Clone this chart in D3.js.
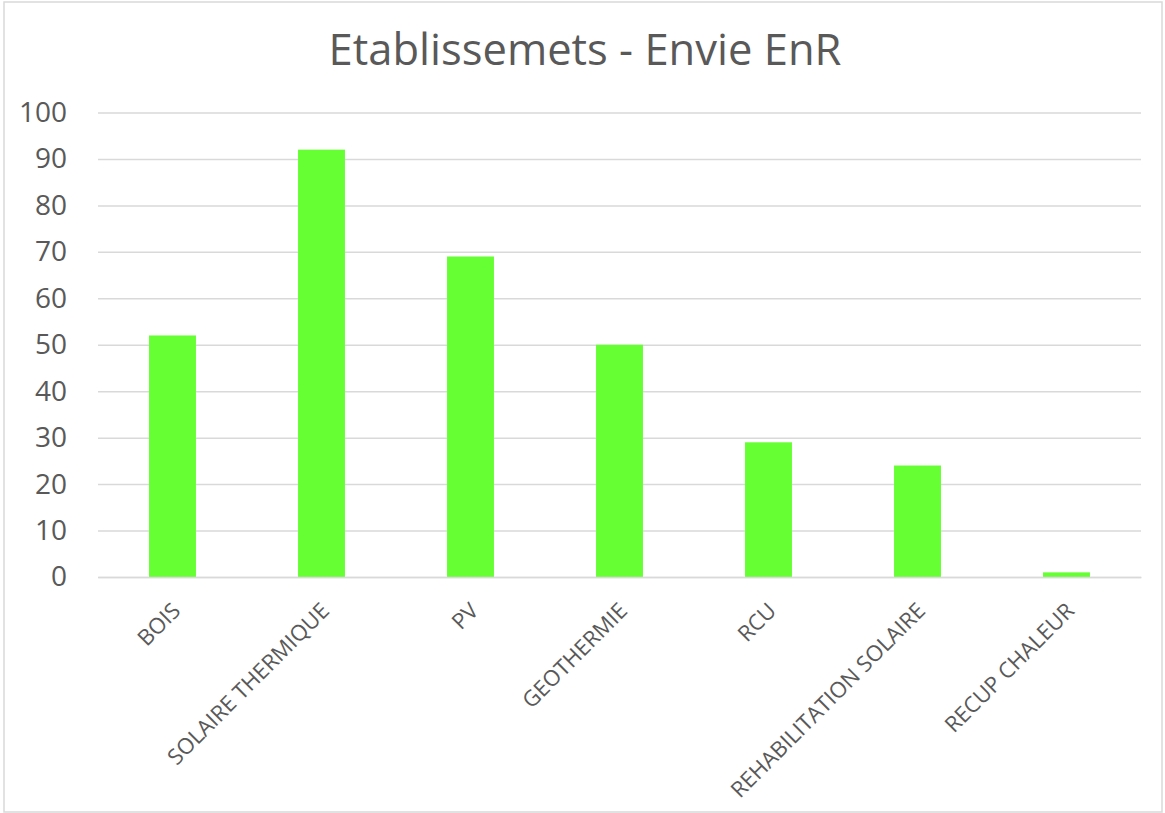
<!DOCTYPE html>
<html><head><meta charset="utf-8">
<script src="https://cdn.jsdelivr.net/npm/d3@7"></script>
<style>html,body{margin:0;padding:0;background:#fff;}svg{display:block;}</style>
</head><body>
<svg id="c" width="1165" height="813"></svg>
<script>
const title = "Etablissemets - Envie EnR";
const categories = ["BOIS","SOLAIRE THERMIQUE","PV","GEOTHERMIE","RCU","REHABILITATION SOLAIRE","RECUP CHALEUR"];
const values = [52, 92, 69, 50, 29, 24, 1];
const yTicks = [0,10,20,30,40,50,60,70,80,90,100];

const svg = d3.select("#c");
const m = {left: 98, right: 1141, top: 112.5, bottom: 577};
const font = "'Open Sans', sans-serif";

svg.append("rect").attr("x",4).attr("y",2).attr("width",1158).attr("height",810)
  .attr("fill","#fff").attr("stroke","#d9d9d9").attr("stroke-width",1.5);

svg.append("text").attr("x",585).attr("y",65).attr("text-anchor","middle")
  .attr("font-family",font).attr("font-size",43.5).attr("fill","#595959").text(title);

const x = d3.scaleBand().domain(categories).range([m.left, m.right]).paddingInner(0.685).paddingOuter(0.3425);
const y = d3.scaleLinear().domain([0,100]).range([m.bottom, m.top]);

const yAxis = svg.append("g").attr("transform",`translate(${m.left},0)`)
  .call(d3.axisLeft(y).tickValues(yTicks).tickSize(-(m.right-m.left)).tickPadding(31));
yAxis.select(".domain").remove();
yAxis.selectAll(".tick line").attr("stroke","#d9d9d9").attr("stroke-width",1.5);
yAxis.selectAll(".tick text").attr("font-family",font).attr("font-size",28).attr("fill","#595959");

svg.append("g").selectAll("rect").data(values).join("rect")
  .attr("x",(d,i)=>x(categories[i])).attr("width",x.bandwidth())
  .attr("y",d=>y(d)).attr("height",d=>y(0)-y(d)).attr("fill","#66ff33");

const xAxis = svg.append("g").attr("transform",`translate(0,${m.bottom})`)
  .call(d3.axisBottom(x).tickSize(0).tickPadding(0));
xAxis.select(".domain").attr("stroke","#d9d9d9").attr("stroke-width",1.5);
xAxis.selectAll(".tick text")
  .attr("font-family",font).attr("font-size",22).attr("fill","#595959")
  .attr("text-anchor","end").attr("dy","0.72em")
  .attr("transform","translate(-2,24) rotate(-45)");
</script>
</body></html>
